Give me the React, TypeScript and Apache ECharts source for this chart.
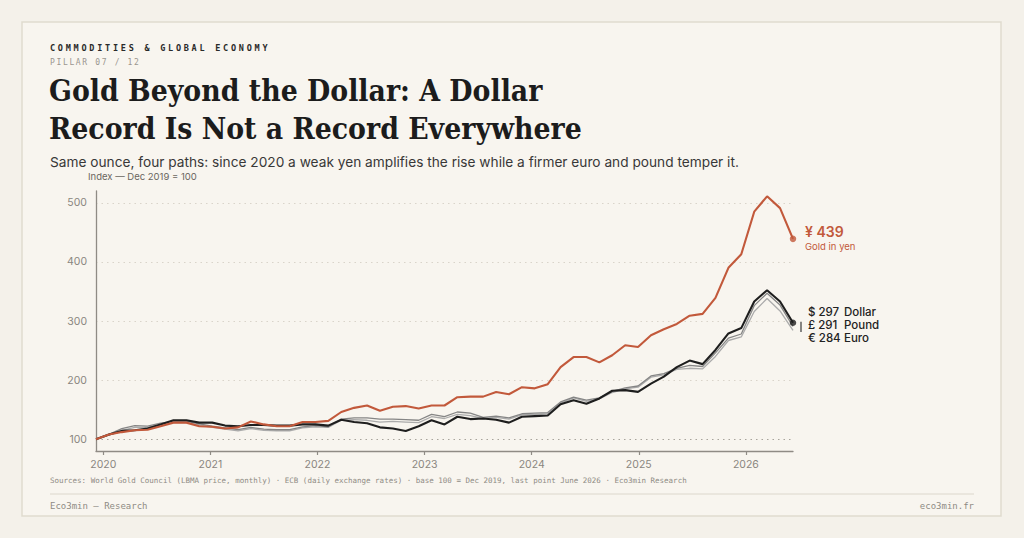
import React, { useEffect, useRef } from "react";
import * as echarts from "echarts";

// Observation dates (fractional years), Dec 2019 -> Jun 2026
const xYears = [
  2019.932, 2020.053, 2020.173, 2020.294, 2020.414, 2020.535, 2020.655, 2020.776, 2020.896, 2021.017,
  2021.137, 2021.258, 2021.378, 2021.499, 2021.619, 2021.74, 2021.86, 2021.981, 2022.101, 2022.222,
  2022.342, 2022.463, 2022.583, 2022.704, 2022.824, 2022.945, 2023.065, 2023.186, 2023.306, 2023.427,
  2023.547, 2023.668, 2023.788, 2023.909, 2024.029, 2024.15, 2024.27, 2024.391, 2024.511, 2024.632,
  2024.752, 2024.873, 2024.993, 2025.114, 2025.234, 2025.355, 2025.475, 2025.596, 2025.716, 2025.837,
  2025.957, 2026.078, 2026.198, 2026.319, 2026.44,
];

// Gold price index (Dec 2019 = 100) in each currency
const goldYen = [
  100, 108, 112, 115, 116, 122, 128, 128, 122, 121,
  118, 120, 130, 125, 122, 122, 129, 129, 131, 146,
  153, 157, 148, 155, 156, 152, 157, 157, 171, 172,
  172, 180, 176, 188, 186, 193, 222, 239, 239, 230,
  242, 259, 256, 276, 286, 295, 309, 312, 339, 390,
  413, 485, 511, 491, 439,
];
const goldUsd = [
  100, 108, 114, 115, 118, 125, 132, 132, 128, 128,
  123, 122, 124, 124, 123, 123, 125, 125, 123, 133,
  129, 127, 120, 118, 114, 122, 132, 125, 138, 134,
  135, 133, 128, 138, 139, 140, 159, 166, 160, 169,
  182, 183, 180, 194, 206, 222, 233, 227, 251, 279,
  288, 333, 352, 333, 297,
];
const goldGbp = [
  100, 108, 118, 123, 122, 127, 130, 130, 126, 122,
  119, 116, 120, 117, 116, 116, 121, 123, 121, 134,
  136, 136, 134, 134, 133, 132, 142, 138, 146, 144,
  137, 139, 136, 143, 144, 145, 163, 171, 166, 170,
  181, 187, 190, 207, 211, 220, 225, 223, 246, 271,
  278, 326, 347, 327, 291,
];
const goldEur = [
  100, 107, 115, 120, 120, 125, 128, 128, 124, 120,
  117, 114, 118, 115, 114, 114, 119, 121, 120, 132,
  133, 132, 129, 130, 129, 128, 138, 135, 142, 140,
  135, 137, 134, 141, 142, 143, 161, 170, 164, 168,
  179, 185, 188, 205, 209, 218, 220, 219, 240, 267,
  273, 316, 338, 317, 284,
];

const yearTicks = [2020, 2021, 2022, 2023, 2024, 2025, 2026];
const yTicks = [100, 200, 300, 400, 500];

const kicker = "COMMODITIES & GLOBAL ECONOMY";
const pillar = "PILLAR 07 / 12";
const titleLines = ["Gold Beyond the Dollar: A Dollar", "Record Is Not a Record Everywhere"];
const subtitle =
  "Same ounce, four paths: since 2020 a weak yen amplifies the rise while a firmer euro and pound temper it.";
const yAxisNote = "Index \u2014 Dec 2019 = 100";
const footnote =
  "Sources: World Gold Council (LBMA price, monthly) \u00b7 ECB (daily exchange rates) \u00b7 base 100 = Dec 2019, last point June 2026 \u00b7 Eco3min Research";
const footerLeft = "Eco3min \u2014 Research";
const footerRight = "eco3min.fr";

const ORANGE = "#c2593b";
const INK = "#1e1e1e";
const GBP_GRAY = "#858585";
const EUR_GRAY = "#ababab";
const SANS = "Inter, 'Noto Sans', sans-serif";
const MONO = "'DejaVu Sans Mono', 'Liberation Mono', monospace";
const SERIF = "'DejaVu Serif Condensed', 'DejaVu Serif', serif";

const last = (a: number[]) => a[a.length - 1];
const pts = (a: number[]) => a.map((v, i) => [xYears[i], v]);

export default function App() {
  const ref = useRef<HTMLDivElement>(null);

  useEffect(() => {
    if (!ref.current) return;
    const chart = echarts.init(ref.current, null, { renderer: "svg", width: 1024, height: 538 });
    const xMin = xYears[0];
    const xMax = xYears[xYears.length - 1];

    const txt = (x: number, y: number, text: string, style: any, extra: any = {}) => ({
      type: "text",
      x,
      y,
      silent: true,
      ...extra,
      style: { text, verticalAlign: "middle", textVerticalAlign: "middle", ...style },
    });

    const seriesLabelRich = {
      v: { width: 36, fontSize: 11.5, fontFamily: SANS, fontWeight: 500, color: "#222" },
      n: { fontSize: 11.5, fontFamily: SANS, fontWeight: 500, color: "#222" },
    };

    const option: any = {
      animation: false,
      backgroundColor: "#f4f1ea",
      grid: { left: 96, right: 231, top: 191, bottom: 87, containLabel: false },
      xAxis: {
        type: "value",
        min: xMin,
        max: xMax,
        axisLine: { show: true, lineStyle: { color: "#8f8b85", width: 1.3 } },
        axisTick: { show: true, length: 4, customValues: yearTicks, lineStyle: { color: "#8f8b85", width: 1.2 } },
        axisLabel: {
          customValues: yearTicks,
          formatter: (v: number) => String(Math.round(v)),
          color: "#8a8680",
          fontSize: 10.5,
          fontFamily: SANS,
          margin: 8,
        },
        splitLine: { show: false },
      },
      yAxis: {
        type: "value",
        min: 80,
        max: 520,
        axisLine: { show: true, lineStyle: { color: "#8f8b85", width: 1.3 } },
        axisTick: { show: false, customValues: yTicks },
        axisLabel: {
          customValues: yTicks,
          color: "#8a8680",
          fontSize: 10.5,
          fontFamily: SANS,
          margin: 9,
        },
        splitLine: {
          show: true,
          lineStyle: { color: ["#a8a49c", "#d9d4ca", "#d9d4ca", "#d9d4ca", "#d9d4ca"], type: [1.5, 4], width: 1.2 },
        },
      },
      series: [
        {
          name: "Euro",
          type: "line",
          data: pts(goldEur),
          showSymbol: false,
          symbol: "none",
          silent: true,
          z: 3,
          lineStyle: { color: EUR_GRAY, width: 1.3 },
          itemStyle: { color: EUR_GRAY },
          endLabel: {
            show: true,
            distance: 15,
            offset: [0, 8],
            formatter: () => `{v|\u20ac ${last(goldEur)}}{n|Euro}`,
            rich: seriesLabelRich,
          },
        },
        {
          name: "Pound",
          type: "line",
          data: pts(goldGbp),
          showSymbol: false,
          symbol: "none",
          silent: true,
          z: 4,
          lineStyle: { color: GBP_GRAY, width: 1.3 },
          itemStyle: { color: GBP_GRAY },
          endLabel: {
            show: true,
            distance: 15,
            offset: [0, -1],
            formatter: () => `{v|\u00a3 ${last(goldGbp)}}{n|Pound}`,
            rich: seriesLabelRich,
          },
        },
        {
          name: "Dollar",
          type: "line",
          data: pts(goldUsd),
          showSymbol: false,
          symbol: "none",
          silent: true,
          z: 5,
          lineStyle: { color: INK, width: 2.1 },
          itemStyle: { color: INK },
          endLabel: {
            show: true,
            distance: 15,
            offset: [0, -11],
            formatter: () => `{v|$ ${last(goldUsd)}}{n|Dollar}`,
            rich: seriesLabelRich,
          },
        },
        {
          name: "Yen",
          type: "line",
          data: pts(goldYen),
          showSymbol: false,
          symbol: "none",
          silent: true,
          z: 6,
          lineStyle: { color: ORANGE, width: 2.1 },
          itemStyle: { color: ORANGE },
          endLabel: {
            show: true,
            distance: 12,
            offset: [0, -1],
            formatter: () => `{a|\u00a5 ${last(goldYen)}}\n{b|Gold in yen}`,
            rich: {
              a: { fontSize: 14, fontWeight: 600, fontFamily: SANS, color: ORANGE, lineHeight: 17 },
              b: { fontSize: 9.5, fontFamily: SANS, color: ORANGE, lineHeight: 13 },
            },
          },
        },
        {
          name: "ends",
          type: "scatter",
          silent: true,
          z: 7,
          symbolSize: 6.5,
          data: [
            { value: [xMax, last(goldUsd)], itemStyle: { color: INK } },
            { value: [xMax, last(goldYen)], itemStyle: { color: ORANGE } },
          ],
        },
      ],
      graphic: [
        {
          type: "rect",
          z: -10,
          silent: true,
          shape: { x: 22, y: 22, width: 979, height: 494 },
          style: { fill: "#f8f5ef", stroke: "#e0dbcf", lineWidth: 1.5 },
        },
        txt(50, 48, kicker, {
          fill: "#2a2a2a",
          font: `bold 8.5px ${MONO}; letter-spacing: 2.75px`,
        }),
        txt(50, 62, pillar, {
          fill: "#9a968f",
          font: `8px ${MONO}; letter-spacing: 1.65px`,
        }),
        txt(49, 90, titleLines[0], { fill: "#1c1c1c", font: `bold 29.8px ${SERIF}` }),
        txt(49, 128, titleLines[1], { fill: "#1c1c1c", font: `bold 29.8px ${SERIF}` }),
        txt(50, 162, subtitle, { fill: "#383838", font: `13.7px ${SANS}` }),
        txt(88, 176, yAxisNote, { fill: "#6a6660", font: `9.5px ${SANS}` }),
        txt(50, 480, footnote, { fill: "#8f8b84", font: `7.5px ${MONO}` }),
        {
          type: "line",
          silent: true,
          shape: { x1: 50, y1: 494, x2: 974, y2: 494 },
          style: { stroke: "#dcd7cc", lineWidth: 1 },
        },
        txt(50, 506, footerLeft, { fill: "#8f8b84", font: `9px ${MONO}` }),
        txt(974, 506, footerRight, { fill: "#8f8b84", font: `9px ${MONO}`, textAlign: "right", align: "right" }),
      ],
    };

    chart.setOption(option);

    const pTop = chart.convertToPixel({ gridIndex: 0 }, [xMax, last(goldUsd)]) as number[];
    const pBot = chart.convertToPixel({ gridIndex: 0 }, [xMax, last(goldEur)]) as number[];
    if (pTop && pBot) {
      chart.setOption({
        graphic: [
          {
            id: "bracket",
            type: "line",
            silent: true,
            shape: { x1: pTop[0] + 8, y1: pTop[1] - 1, x2: pTop[0] + 8, y2: pBot[1] + 1.5 },
            style: { stroke: "#3a3a3a", lineWidth: 1.2 },
          },
        ],
      });
    }

    return () => chart.dispose();
  }, []);

  return (
    <div
      ref={ref}
      style={{ position: "fixed", left: 0, top: 0, width: 1024, height: 538 }}
    />
  );
}
